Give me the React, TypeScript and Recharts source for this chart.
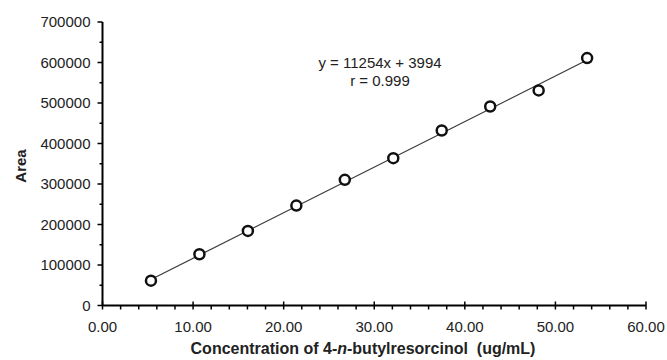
import React from "react";
import { ComposedChart, Line, Scatter, XAxis, YAxis } from "recharts";

// calibration points
const concentration = [5.35, 10.7, 16.05, 21.4, 26.75, 32.1, 37.45, 42.8, 48.15, 53.5];
const area = [61300, 126600, 184100, 246700, 310200, 363800, 432000, 491400, 531000, 611000];

// fitted line y = 11254x + 3994, drawn from first to last standard
const trendX = [5.35, 53.5];
const trendY = [64200, 606100];

const xTicks = [0, 2, 4, 6, 8, 10, 12, 14, 16, 18, 20, 22, 24, 26, 28, 30, 32, 34, 36, 38, 40, 42, 44, 46, 48, 50, 52, 54, 56, 58, 60];
const yTicks = [0, 50000, 100000, 150000, 200000, 250000, 300000, 350000, 400000, 450000, 500000, 550000, 600000, 650000, 700000];

const equation = "y = 11254x + 3994";
const rValue = "r = 0.999";

const points = concentration.map((x, i) => ({ x, y: area[i] }));
const trend = trendX.map((x, i) => ({ x, y: trendY[i] }));

const FONT = "'Liberation Sans', Arial, sans-serif";

const XTick = (props: any) => {
  const { x, y, payload } = props;
  const major = payload.value % 10 === 0;
  return (
    <g>
      <line x1={x} x2={x} y1={major ? y - 4 : y} y2={y + 4} stroke="#000" strokeWidth={1.5} />
      {major && (
        <text x={x} y={y + 26} textAnchor="middle" fontSize={15} fill="#222" fontFamily={FONT}>
          {payload.value.toFixed(2)}
        </text>
      )}
    </g>
  );
};

const YTick = (props: any) => {
  const { x, y, payload } = props;
  const major = payload.value % 100000 === 0;
  return (
    <g>
      <line x1={x - (major ? 5 : 3)} x2={x} y1={y} y2={y} stroke="#000" strokeWidth={1.5} />
      {major && (
        <text x={x - 12} y={y} dy="0.36em" textAnchor="end" fontSize={15} fill="#222" fontFamily={FONT}>
          {payload.value}
        </text>
      )}
    </g>
  );
};

const Ring = (props: any) => {
  const { cx, cy } = props;
  return <circle cx={cx} cy={cy} r={5} fill="#fff" stroke="#111" strokeWidth={2.5} />;
};

export default function App() {
  return (
    <div style={{ position: "absolute", left: 0, top: 0, width: 667, height: 360, background: "#fff", fontFamily: FONT }}>
      <ComposedChart width={667} height={360} margin={{ top: 22, right: 21, left: 0, bottom: 0 }}>
        <XAxis
          dataKey="x"
          type="number"
          domain={[0, 60]}
          ticks={xTicks}
          interval={0}
          height={54.5}
          tickSize={0}
          tickMargin={0}
          tick={<XTick />}
          axisLine={{ stroke: "#000", strokeWidth: 2 }}
          allowDataOverflow
        />
        <YAxis
          dataKey="y"
          type="number"
          domain={[0, 700000]}
          ticks={yTicks}
          interval={0}
          width={102.5}
          tickSize={0}
          tickMargin={0}
          tick={<YTick />}
          axisLine={{ stroke: "#000", strokeWidth: 2 }}
          allowDataOverflow
        />
        <Line
          data={trend}
          dataKey="y"
          stroke="#3a3a3a"
          strokeWidth={1.2}
          dot={false}
          activeDot={false}
          isAnimationActive={false}
        />
        <Scatter data={points} dataKey="y" shape={<Ring />} isAnimationActive={false} />
      </ComposedChart>
      <div style={{ position: "absolute", left: 280, width: 200, top: 54, textAlign: "center", fontSize: 15, lineHeight: "18px", color: "#222" }}>
        <div>{equation}</div>
        <div>{rValue}</div>
      </div>
      <div style={{ position: "absolute", left: 0, width: 726, top: 340, textAlign: "center", fontSize: 16, fontWeight: "bold", color: "#222", whiteSpace: "pre" }}>
        Concentration of 4-<i>n</i>-butylresorcinol  (ug/mL)
      </div>
      <div style={{ position: "absolute", left: 20, top: 166, width: 0, height: 0 }}>
        <div style={{ position: "absolute", transform: "translate(-50%, -50%) rotate(-90deg)", fontSize: 15, fontWeight: "bold", color: "#222" }}>
          Area
        </div>
      </div>
    </div>
  );
}
